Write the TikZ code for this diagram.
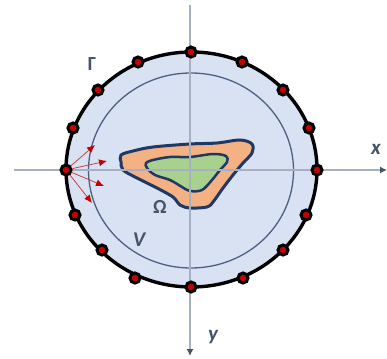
\documentclass[tikz,border=0pt]{standalone}
\usepackage{fontspec}
\setmainfont{Carlito}
\usetikzlibrary{arrows.meta}
\definecolor{slate}{HTML}{44546A}
\definecolor{axisgrey}{HTML}{A5B0C2}
\definecolor{dompale}{HTML}{D9E2F3}
\definecolor{domdark}{HTML}{1F3864}
\definecolor{layerorange}{HTML}{F4B183}
\definecolor{coregreen}{HTML}{A9D18E}
\definecolor{srcred}{HTML}{C00000}
\tikzset{
    sensor/.style={circle, draw=black, line width=3pt, fill=srcred!85!red, inner sep=0pt, minimum size=10pt},
    axisline/.style={draw=axisgrey, line width=1.2pt},
    ray/.style={draw=srcred!75!white, line width=0.8pt, -{Latex[length=8pt,width=7pt,color=srcred]}},
    domlabel/.style={text=slate, font=\fontsize{20}{20}\selectfont\bfseries, inner sep=0pt},
    axislabel/.style={text=slate, font=\fontsize{21}{21}\selectfont\bfseries\itshape, inner sep=0pt},
}
\begin{document}
\begin{tikzpicture}[x=1pt, y=-1pt]
    \useasboundingbox (0,0) rectangle (387,358);
    % outer and inner boundary:
    \path[fill=dompale] (191.5,169.5) ellipse [x radius=125.5, y radius=117.5];
    \draw[draw=black, line width=3.4pt] (191.5,169.5) ellipse [x radius=125.5, y radius=117.5];
    \draw[draw=domdark!80!white, line width=1.3pt] (191,170.5) ellipse [x radius=102.5, y radius=97.5];
    % layers:
    \draw[draw=domdark, line width=3pt, fill=layerorange] plot[smooth cycle, tension=0.55] coordinates {
        (121,155) (133,151) (153,147) (190,144) (217,143) (240,140) (252,144) (252,153)
        (243,163) (233,175) (223,188) (213,202) (207,207) (190,208) (180,205) (173,197)
        (157,188) (137,178) (123,170) (121,162)};
    \draw[draw=domdark, line width=2.5pt, fill=coregreen] plot[smooth cycle, tension=0.55] coordinates {
        (146,163) (153,160) (170,157) (190,157) (213,154) (226,156) (227,162) (220,170)
        (212,180) (202,190) (190,191) (182,187) (170,180) (155,175) (147,168)};
    % axes:
    \coordinate (xstart) at (14,170);
    \coordinate (xend) at (387,170);
    \coordinate (ystart) at (190,5);
    \coordinate (yend) at (190,356);
    \draw[axisline, -{Latex[length=7pt,width=7pt,color=slate]}] (xstart) -- (xend);
    \draw[axisline, -{Latex[length=7pt,width=7pt,color=slate]}] (ystart) -- (yend);
    % sensors:
    \foreach \nm/\px/\py in {a/191/52, b/242/62, c/283/90, d/309/128, e/317/170, f/306/215,
        g/283/250, h/243/278, i/191/287, j/135/278, k/102/250, l/75/215, m/66/170,
        n/73/128, o/98/90, p/138/62} {
        \node[sensor] (\nm) at (\px,\py) {};
    }
    % rays:
    \coordinate (rayA) at (95,145);
    \coordinate (rayB) at (107,161);
    \coordinate (rayC) at (104,186);
    \coordinate (rayD) at (92,203);
    \foreach \tgt in {rayA, rayB, rayC, rayD} {
        \draw[ray] (m) -- (\tgt);
    }
    % labels:
    \node[domlabel] (gammalabel) at (92,64) {Γ};
    \node[domlabel] (omegalabel) at (160,207) {Ω};
    \node[axislabel] (vlabel) at (139,240) {V};
    \node[axislabel] (xlabel) at (376,149) {x};
    \node[axislabel] (ylabel) at (213,337) {y};
\end{tikzpicture}
\end{document}
